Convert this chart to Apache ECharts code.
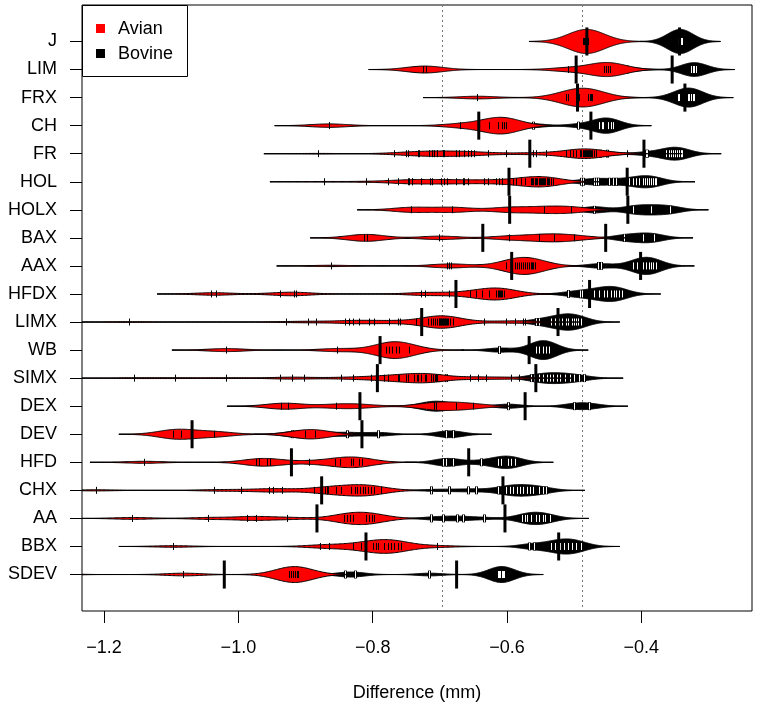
<!DOCTYPE html>
<html><head><meta charset="utf-8">
<script src="https://cdn.jsdelivr.net/npm/echarts@6/dist/echarts.min.js"></script>
<style>html,body{margin:0;padding:0;background:#fff}#c{width:765px;height:711px}</style>
</head><body><div id="c"></div>
<script>
// ---------------- data ----------------
const rowNames = ['J','LIM','FRX','CH','FR','HOL','HOLX','BAX','AAX','HFDX','LIMX','WB','SIMX','DEX','DEV','HFD','CHX','AA','BBX','SDEV'];
const xTicks = [-1.2, -1.0, -0.8, -0.6, -0.4];
const overallMeans = [-0.6955, -0.4868]; // Avian, Bovine
const avianMeans  = [-0.481,-0.497,-0.495,-0.642,-0.566,-0.597,-0.596,-0.636,-0.593,-0.676,-0.727,-0.789,-0.793,-0.819,-1.069,-0.921,-0.876,-0.883,-0.810,-1.021];
const bovineMeans = [-0.343,-0.354,-0.335,-0.475,-0.396,-0.421,-0.420,-0.453,-0.401,-0.477,-0.524,-0.567,-0.557,-0.573,-0.816,-0.657,-0.606,-0.603,-0.523,-0.675];
const avianValues = [
 [-0.486,-0.484,-0.483,-0.482,-0.481,-0.480,-0.479,-0.478],
 [-0.725,-0.720,-0.509,-0.455,-0.452,-0.449,-0.446],
 [-0.644,-0.511,-0.509,-0.495,-0.492,-0.479,-0.476,-0.474,-0.472],
 [-0.865,-0.669,-0.626,-0.612,-0.606,-0.603,-0.600],
 [-0.881,-0.767,-0.750,-0.747,-0.732,-0.730,-0.715,-0.711,-0.708,-0.704,-0.695,-0.693,-0.675,-0.670,-0.663,-0.658,-0.653,-0.648,-0.628,-0.601,-0.561,-0.556,-0.541,-0.511,-0.506,-0.501,-0.496,-0.490,-0.489,-0.486,-0.485,-0.483,-0.482,-0.480,-0.479,-0.477,-0.476,-0.474,-0.472,-0.470,-0.467,-0.420],
 [-0.872,-0.809,-0.776,-0.762,-0.747,-0.745,-0.741,-0.741,-0.727,-0.714,-0.711,-0.698,-0.693,-0.689,-0.675,-0.665,-0.663,-0.658,-0.633,-0.628,-0.616,-0.611,-0.606,-0.591,-0.586,-0.578,-0.573,-0.564,-0.562,-0.561,-0.558,-0.556,-0.555,-0.552,-0.550,-0.549,-0.547,-0.546,-0.544,-0.543,-0.540,-0.538,-0.537,-0.534,-0.531],
 [-0.742,-0.681,-0.596,-0.544,-0.504],
 [-0.812,-0.808,-0.700,-0.596,-0.551,-0.529,-0.499],
 [-0.862,-0.688,-0.685,-0.682,-0.601,-0.592,-0.588,-0.585,-0.582,-0.578,-0.575,-0.572,-0.570,-0.567,-0.564,-0.562,-0.560,-0.558],
 [-1.040,-1.033,-0.937,-0.916,-0.913,-0.727,-0.722,-0.685,-0.655,-0.645,-0.636,-0.626,-0.616,-0.613,-0.611,-0.610,-0.608,-0.606,-0.603],
 [-1.162,-0.929,-0.895,-0.884,-0.840,-0.834,-0.828,-0.820,-0.804,-0.798,-0.775,-0.761,-0.759,-0.735,-0.717,-0.712,-0.709,-0.706,-0.703,-0.701,-0.700,-0.699,-0.698,-0.697,-0.696,-0.695,-0.694,-0.693,-0.692,-0.691,-0.690,-0.689,-0.687,-0.684,-0.680,-0.633,-0.601,-0.588,-0.576,-0.572],
 [-1.018,-0.852,-0.780,-0.775,-0.770,-0.765,-0.760,-0.745],
 [-1.154,-1.093,-1.018,-0.938,-0.920,-0.901,-0.847,-0.829,-0.802,-0.795,-0.782,-0.777,-0.762,-0.760,-0.750,-0.747,-0.737,-0.734,-0.732,-0.727,-0.722,-0.720,-0.712,-0.709,-0.707,-0.705,-0.703,-0.655,-0.643,-0.631,-0.593,-0.582],
 [-0.936,-0.926,-0.854,-0.820,-0.708,-0.705,-0.675,-0.650],
 [-1.097,-1.085,-1.035,-0.900,-0.885],
 [-1.140,-0.973,-0.969,-0.956,-0.952,-0.894,-0.856,-0.848,-0.832,-0.828,-0.819,-0.815],
 [-1.211,-1.036,-0.996,-0.953,-0.948,-0.934,-0.886,-0.871,-0.868,-0.866,-0.854,-0.847,-0.832,-0.826,-0.822,-0.818,-0.814,-0.810,-0.806,-0.802,-0.797,-0.787],
 [-1.157,-1.044,-0.986,-0.973,-0.927,-0.842,-0.838,-0.833,-0.829,-0.809,-0.805,-0.801,-0.797],
 [-1.097,-0.878,-0.864,-0.829,-0.817,-0.799,-0.795,-0.792,-0.782,-0.777,-0.772,-0.767,-0.762,-0.757,-0.704],
 [-1.320,-1.280,-1.081,-0.924,-0.921,-0.918,-0.915,-0.912,-0.910]
];
const bovineValues = [
 [-0.345,-0.344,-0.343,-0.342,-0.341,-0.340,-0.339],
 [-0.470,-0.445,-0.420,-0.325,-0.322,-0.320,-0.318],
 [-0.450,-0.345,-0.343,-0.330,-0.328,-0.325,-0.322,-0.320],
 [-0.580,-0.560,-0.494,-0.462,-0.458,-0.456,-0.449,-0.445,-0.442],
 [-0.500,-0.480,-0.470,-0.460,-0.450,-0.392,-0.390,-0.362,-0.358,-0.355,-0.352,-0.349,-0.346,-0.343,-0.340,-0.338],
 [-0.489,-0.486,-0.469,-0.467,-0.464,-0.447,-0.442,-0.437,-0.417,-0.412,-0.407,-0.402,-0.397,-0.394,-0.391,-0.388,-0.385,-0.382,-0.379,-0.377],
 [-0.470,-0.412,-0.385,-0.357],
 [-0.550,-0.520,-0.425,-0.397,-0.380],
 [-0.464,-0.459,-0.412,-0.405,-0.400,-0.396,-0.392,-0.388,-0.385,-0.382,-0.378],
 [-0.509,-0.490,-0.487,-0.470,-0.462,-0.455,-0.450,-0.445,-0.440,-0.437,-0.433,-0.428],
 [-0.556,-0.552,-0.534,-0.528,-0.522,-0.517,-0.512,-0.508,-0.503,-0.500,-0.497,-0.493,-0.489],
 [-0.611,-0.556,-0.551,-0.546,-0.541,-0.536],
 [-0.720,-0.710,-0.700,-0.690,-0.564,-0.559,-0.551,-0.545,-0.540,-0.535,-0.530,-0.525,-0.520,-0.513,-0.506,-0.500,-0.492,-0.484],
 [-0.720,-0.705,-0.690,-0.598,-0.499,-0.477],
 [-0.920,-0.900,-0.880,-0.837,-0.791,-0.690,-0.680],
 [-0.695,-0.690,-0.680,-0.638,-0.613,-0.608,-0.598,-0.593,-0.588],
 [-0.712,-0.686,-0.658,-0.645,-0.613,-0.605,-0.600,-0.595,-0.590,-0.585,-0.580,-0.575,-0.570,-0.565,-0.560,-0.552,-0.545,-0.541],
 [-0.712,-0.695,-0.673,-0.665,-0.634,-0.577,-0.573,-0.569,-0.563,-0.556,-0.552,-0.546,-0.542,-0.535],
 [-0.566,-0.559,-0.534,-0.527,-0.520,-0.514,-0.508,-0.502,-0.496,-0.489],
 [-0.840,-0.825,-0.715,-0.613,-0.611,-0.609,-0.607,-0.605,-0.603]
];
const avianBw = 0.027, bovineBw = 0.019;

// ---------------- helpers ----------------
const FONT = '"Liberation Sans", Arial, Helvetica, sans-serif';
const HALF = 0.43;
function dens(vals, bw, x){ let s=0; for(const v of vals){const u=(x-v)/bw; s+=Math.exp(-0.5*u*u);} return s/(vals.length*bw*Math.sqrt(2*Math.PI)); }
function extent(vals, bw){ return [Math.min(...vals)-3*bw, Math.max(...vals)+3*bw]; }
function maxDens(groups, bw){ let m=0; groups.forEach(vals=>{const [lo,hi]=extent(vals,bw); for(let k=0;k<=500;k++){m=Math.max(m,dens(vals,bw,lo+(hi-lo)*k/500));}}); return m; }
const avianScale = HALF/maxDens(avianValues, avianBw);
const bovineScale = HALF/maxDens(bovineValues, bovineBw);
const snap = p => Math.round(p - 0.5) + 0.5;

function rowData(means){ return means.map((m,i)=>[m, i+1]); }
function baseSeries(){
  return {type:'custom', clip:true, silent:true, data: rowData(avianMeans), encode:{x:0,y:1},
    renderItem:(params, api)=>{
      const i=params.dataIndex, row=i+1;
      const a=extent(avianValues[i],avianBw), b=extent(bovineValues[i],bovineBw);
      const p1=api.coord([Math.min(a[0],b[0]),row]), p2=api.coord([Math.max(a[1],b[1]),row]);
      return {type:'line', shape:{x1:p1[0],y1:p1[1],x2:p2[0],y2:p2[1]}, style:{stroke:'#000', lineWidth:1}};
    }};
}
function beanSeries(groups, bw, scale, fill){
  return {type:'custom', clip:true, silent:true, data: rowData(avianMeans), encode:{x:0,y:1},
    renderItem:(params, api)=>{
      const i=params.dataIndex, vals=groups[i], row=i+1;
      const [lo,hi]=extent(vals,bw); const N=300, top=[], bot=[];
      for(let k=0;k<=N;k++){ const x=lo+(hi-lo)*k/N, d=dens(vals,bw,x)*scale;
        top.push(api.coord([x,row-d])); bot.push(api.coord([x,row+d])); }
      return {type:'polygon', shape:{points: top.concat(bot.reverse())}, style:{fill, stroke:'#000', lineWidth:1}};
    }};
}
function tickSeries(groups, half, color, width){
  return {type:'custom', clip:true, silent:true, data: rowData(avianMeans), encode:{x:0,y:1},
    renderItem:(params, api)=>{
      const i=params.dataIndex, row=i+1;
      const children = groups[i].map(v=>{ const p1=api.coord([v,row-half]), p2=api.coord([v,row+half]); const x=snap(p1[0]);
        return {type:'line', shape:{x1:x,y1:p1[1],x2:x,y2:p2[1]}, style:{stroke:color, lineWidth:width}}; });
      return {type:'group', children};
    }};
}
function meanSeries(means){
  return {type:'custom', clip:true, silent:true, data: rowData(means), encode:{x:0,y:1},
    renderItem:(params, api)=>{
      const i=params.dataIndex, row=i+1;
      const p1=api.coord([means[i],row-0.5]), p2=api.coord([means[i],row+0.5]);
      return {type:'line', shape:{x1:p1[0],y1:p1[1],x2:p1[0],y2:p2[1]}, style:{stroke:'#000', lineWidth:3}};
    }};
}
const overallSeries = {type:'custom', clip:true, silent:true, data: overallMeans.map(v=>[v,1]), encode:{x:0,y:1},
  renderItem:(params, api)=>{
    const v=overallMeans[params.dataIndex]; const p1=api.coord([v,-0.3]), p2=api.coord([v,21.3]); const x=snap(p1[0]);
    return {type:'line', shape:{x1:x,y1:p1[1],x2:x,y2:p2[1]}, style:{stroke:'#777', lineWidth:1, lineDash:[2,3]}};
  }};

const chart = echarts.init(document.getElementById('c'), null, {renderer:'canvas'});
chart.setOption({
  animation:false,
  backgroundColor:'#fff',
  grid:{left:82, right:13, top:5, bottom:100, show:true, borderColor:'#000', borderWidth:1, backgroundColor:'transparent'},
  xAxis:{type:'value', min:-1.2329, max:-0.2351, position:'bottom',
    axisLine:{show:false, onZero:false}, splitLine:{show:false},
    axisTick:{show:true, length:12, lineStyle:{color:'#000'}, customValues: xTicks},
    axisLabel:{customValues: xTicks, margin:28, color:'#000', fontSize:18, fontFamily:FONT,
      formatter: v => v.toFixed(1).replace('-', '\u2212')},
    name:'Difference (mm)', nameLocation:'middle', nameGap:73,
    nameTextStyle:{color:'#000', fontSize:18, fontFamily:FONT}},
  yAxis:{type:'value', inverse:true, min:-0.3, max:21.3, position:'left',
    axisLine:{show:false, onZero:false}, splitLine:{show:false},
    axisTick:{show:true, length:12, lineStyle:{color:'#000'}, customValues: rowNames.map((_,i)=>i+1)},
    axisLabel:{customValues: rowNames.map((_,i)=>i+1), margin:25, color:'#000', fontSize:18, fontFamily:FONT,
      formatter: v => rowNames[Math.round(v)-1] || ''}},
  series:[
    overallSeries,
    baseSeries(),
    beanSeries(bovineValues, bovineBw, bovineScale, '#000'),
    tickSeries(bovineValues, 0.14, '#000', 3),
    tickSeries(bovineValues, 0.125, '#fff', 1),
    beanSeries(avianValues, avianBw, avianScale, '#ff0000'),
    tickSeries(avianValues, 0.125, '#000', 1),
    meanSeries(bovineMeans),
    meanSeries(avianMeans)
  ],
  graphic:[
    {type:'rect', shape:{x:82.5, y:5.5, width:105, height:71}, style:{fill:'#fff', stroke:'#000', lineWidth:1}, z:100},
    {type:'rect', shape:{x:96, y:24, width:9, height:9}, style:{fill:'#ff0000'}, z:101},
    {type:'rect', shape:{x:96, y:49, width:9, height:9}, style:{fill:'#000'}, z:101},
    {type:'text', x:118, y:29, style:{text:'Avian', fill:'#000', font:'18px '+FONT, textVerticalAlign:'middle'}, z:101},
    {type:'text', x:118, y:54, style:{text:'Bovine', fill:'#000', font:'18px '+FONT, textVerticalAlign:'middle'}, z:101}
  ]
});
</script></body></html>
